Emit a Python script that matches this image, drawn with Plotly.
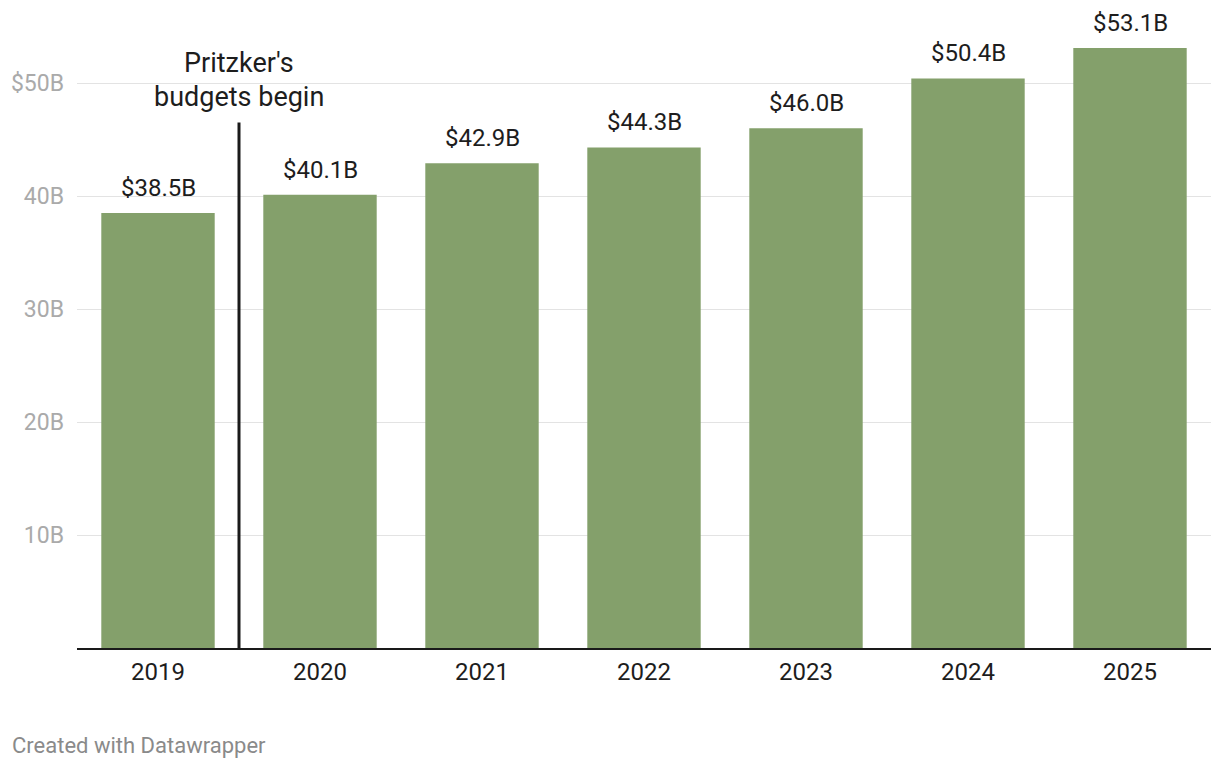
import plotly.graph_objects as go

years = ["2019", "2020", "2021", "2022", "2023", "2024", "2025"]
budgets = [38.5, 40.1, 42.9, 44.3, 46.0, 50.4, 53.1]
value_labels = ["$38.5B", "$40.1B", "$42.9B", "$44.3B", "$46.0B", "$50.4B", "$53.1B"]
tick_vals = [10, 20, 30, 40, 50]
tick_text = ["10B", "20B", "30B", "40B", "$50B"]

FONT = "Roboto"
BAR = "#84a06b"
TXT = "#1d1d1d"

fig = go.Figure()
fig.add_trace(go.Bar(
    x=years, y=budgets,
    marker=dict(color=BAR, line=dict(width=0)),
    cliponaxis=False, hoverinfo="skip",
))

for i, (v, lab) in enumerate(zip(budgets, value_labels)):
    fig.add_annotation(x=i, y=v, text=lab, showarrow=False, yshift=25,
                       xanchor="center", yanchor="middle",
                       font=dict(family=FONT, size=24, color=TXT))

W, H = 1220, 768
ml, mr, mt, mb = 77, 9, 27, 120
plot_h = H - mt - mb
ymax = plot_h / 11.3

fig.update_layout(
    width=W, height=H,
    margin=dict(l=ml, r=mr, t=mt, b=mb, pad=0),
    paper_bgcolor="white", plot_bgcolor="white",
    bargap=0.3, showlegend=False,
    font=dict(family=FONT, size=24, color=TXT),
    xaxis=dict(type="category", range=[-0.5, len(years) - 0.5],
               showgrid=False, showline=True, linecolor="#1a1a1a",
               linewidth=2, ticks="", tickfont=dict(family=FONT, size=24, color=TXT),
               ticklabelstandoff=1, zeroline=False, fixedrange=True),
    yaxis=dict(range=[0, ymax], tickvals=tick_vals, ticktext=tick_text,
               showgrid=True, gridcolor="#e3e3e3", gridwidth=1, zeroline=False,
               showline=False, ticks="", ticklabelstandoff=12,
               tickfont=dict(family=FONT, size=23, color="#aaaaaa"), fixedrange=True),
)

fig.add_shape(type="line", xref="x", yref="y", x0=0.5, x1=0.5, y0=0, y1=46.5,
              line=dict(color="#1a1a1a", width=3))

fig.add_annotation(xref="x", yref="y", x=0.5, y=(648 - 63) / 11.3, text="Pritzker's",
                   showarrow=False, font=dict(family=FONT, size=27, color=TXT),
                   xanchor="center", yanchor="middle")
fig.add_annotation(xref="x", yref="y", x=0.5, y=(648 - 97) / 11.3, text="budgets begin",
                   showarrow=False, font=dict(family=FONT, size=27, color=TXT),
                   xanchor="center", yanchor="middle")

fig.add_annotation(xref="paper", yref="paper", x=(10 - ml) / (W - ml - mr),
                   y=-(745 - 648) / plot_h, text="Created with Datawrapper",
                   showarrow=False, font=dict(family=FONT, size=22, color="#8a8a8a"),
                   xanchor="left", yanchor="middle")

fig.write_html("out.html")
